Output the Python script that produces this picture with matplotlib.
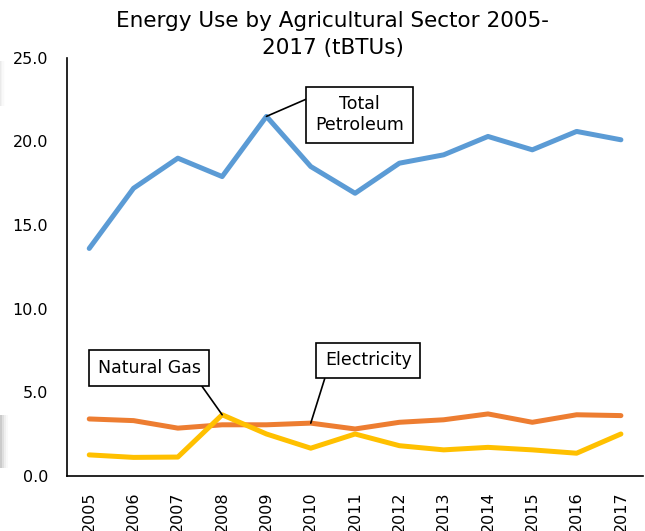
import matplotlib
matplotlib.use("Agg")
import matplotlib.pyplot as plt
from matplotlib.patches import Rectangle

# data (tBTUs)
years = [2005, 2006, 2007, 2008, 2009, 2010, 2011, 2012, 2013, 2014, 2015, 2016, 2017]
petroleum = [13.6, 17.2, 19.0, 17.9, 21.5, 18.5, 16.9, 18.7, 19.2, 20.3, 19.5, 20.6, 20.1]
electricity = [3.4, 3.3, 2.85, 3.05, 3.05, 3.15, 2.8, 3.2, 3.35, 3.7, 3.2, 3.65, 3.6]
natural_gas = [1.25, 1.1, 1.12, 3.65, 2.5, 1.65, 2.5, 1.8, 1.55, 1.7, 1.55, 1.35, 2.5]
yticks = [0, 5, 10, 15, 20, 25]

fig = plt.figure(figsize=(6.45, 5.31), dpi=100)
ax = fig.add_axes([0.104, 0.104, 0.893, 0.787])

lw = 3.6
ax.plot(years, petroleum, color='#5B9BD5', lw=lw, solid_capstyle='round', solid_joinstyle='round')
ax.plot(years, electricity, color='#ED7D31', lw=lw, solid_capstyle='round', solid_joinstyle='round')
ax.plot(years, natural_gas, color='#FFC000', lw=lw, solid_capstyle='round', solid_joinstyle='round')

ax.set_xlim(years[0] - 0.5, years[-1] + 0.5)
ax.set_ylim(0, 25)
ax.set_yticks(yticks)
ax.set_yticklabels(['%.1f' % v for v in yticks], fontsize=11.5)
ax.set_xticks(years)
ax.set_xticklabels([str(y) for y in years], rotation=90, fontsize=11.5)
ax.tick_params(length=0)
ax.tick_params(axis='y', pad=13.5)
ax.tick_params(axis='x', pad=11)
for s in ['top', 'right']:
    ax.spines[s].set_visible(False)
for s in ['left', 'bottom']:
    ax.spines[s].set_linewidth(1.2)

box = dict(boxstyle='square,pad=0.5', fc='white', ec='black', lw=1.2)
line = dict(arrowstyle='-', color='black', lw=1.2, shrinkA=0, shrinkB=0)

ax.annotate('Total\nPetroleum', xy=(2009, petroleum[4]), xytext=(2011.1, 21.6),
            ha='center', va='center', fontsize=12.5, bbox=box, linespacing=1.2,
            arrowprops=dict(line, relpos=(0, 1)))
ax.annotate('Natural Gas', xy=(2008, natural_gas[3]), xytext=(2006.35, 6.45),
            ha='center', va='center', fontsize=12.5, bbox=box,
            arrowprops=dict(line, relpos=(0.95, 0)))
ax.annotate('Electricity', xy=(2010, electricity[5]), xytext=(2011.3, 6.9),
            ha='center', va='center', fontsize=12.5, bbox=box,
            arrowprops=dict(line, relpos=(0.03, 0)))

fig.suptitle('Energy Use by Agricultural Sector 2005-\n2017 (tBTUs)',
             x=0.516, y=0.98, fontsize=15.5, linespacing=1.45)

# faint shadows on the left edge of the original screenshot
for i, a in enumerate([0.35, 0.25, 0.15, 0.07]):
    w = (i + 1) * 2.0 / 645
    fig.patches.append(Rectangle((0, 0.118), w, 0.10, transform=fig.transFigure,
                                 fc='#888888', ec='none', alpha=a * 0.6))
    fig.patches.append(Rectangle((0, 0.80), w * 0.6, 0.085, transform=fig.transFigure,
                                 fc='#888888', ec='none', alpha=a * 0.2))

fig.savefig('out.png', dpi=100)
